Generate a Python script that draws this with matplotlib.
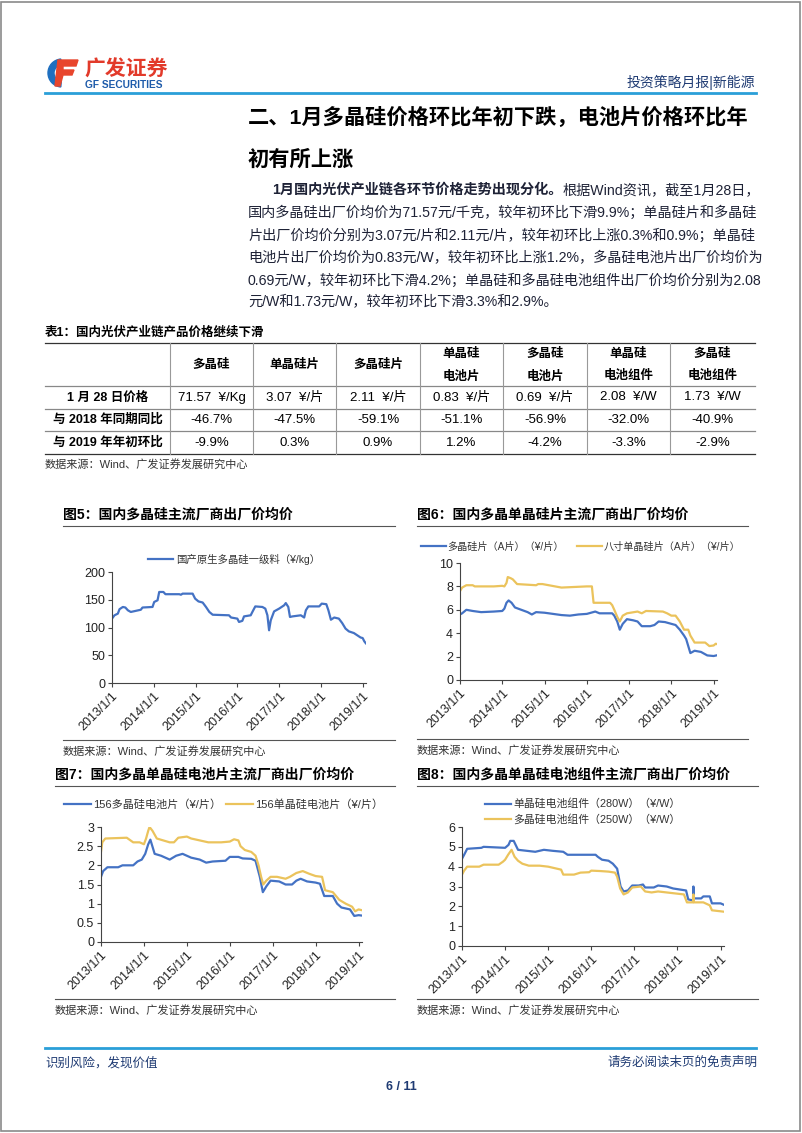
import matplotlib
matplotlib.use('Agg')
import matplotlib.pyplot as plt
from matplotlib.patches import Rectangle, Wedge, Polygon

plt.rcParams['font.family'] = ['Liberation Sans', 'Noto Sans CJK SC', 'DejaVu Sans']

W, H = 802, 1133
BLUE = '#4472C4'
GOLD = '#EBC35C'
NAVY = '#1F3B73'
LBLUE = '#2A9FD8'
TXT = '#1E2236'

# ---- table data ----
col_names = ['多晶硅', '单晶硅片', '多晶硅片', '单晶硅\n电池片', '多晶硅\n电池片', '单晶硅\n电池组件', '多晶硅\n电池组件']
row_names = ['1 月 28 日价格', '与 2018 年同期同比', '与 2019 年年初环比']
price_vals = ['71.57  ¥/Kg', '3.07  ¥/片', '2.11  ¥/片', '0.83  ¥/片', '0.69  ¥/片', '2.08  ¥/W', '1.73  ¥/W']
yoy_vals = ['-46.7%', '-47.5%', '-59.1%', '-51.1%', '-56.9%', '-32.0%', '-40.9%']
ytd_vals = ['-9.9%', '0.3%', '0.9%', '1.2%', '-4.2%', '-3.3%', '-2.9%']

# ---- chart data (decimal year, price) ----
poly_year = [2013.0, 2013.06, 2013.14, 2013.18, 2013.26, 2013.32, 2013.38, 2013.45, 2013.57, 2013.69, 2013.73,
             2013.97, 2014.01, 2014.09, 2014.13, 2014.23, 2014.28, 2014.61, 2014.65, 2014.69, 2014.93, 2014.99,
             2015.07, 2015.17, 2015.25, 2015.33, 2015.41, 2015.8, 2015.85, 2016.0, 2016.04, 2016.12, 2016.16,
             2016.32, 2016.36, 2016.43, 2016.6, 2016.67, 2016.72, 2016.76, 2016.8, 2016.88, 2017.0, 2017.12,
             2017.16, 2017.22, 2017.26, 2017.32, 2017.52, 2017.6, 2017.64, 2017.7, 2017.96, 2018.02, 2018.13,
             2018.18, 2018.24, 2018.32, 2018.43, 2018.51, 2018.59, 2018.67, 2018.79, 2018.87, 2018.95, 2019.0,
             2019.04, 2019.075]
poly_price = [116, 122, 125, 133, 137, 136, 131, 128, 130, 132, 136,
              137, 146, 149, 164, 164, 160, 160, 159, 161, 161, 152,
              147, 145, 137, 128, 123, 122, 118, 116, 110, 112, 120,
              122, 128, 138, 137, 134, 122, 95, 113, 129, 134, 140,
              144, 137, 119, 120, 122, 118, 131, 138, 138, 143, 142,
              131, 114, 118, 116, 108, 98, 93, 90, 86, 82, 81,
              75, 71.57]

wafer_year = [2013.0, 2013.05, 2013.15, 2013.3, 2013.5, 2013.8, 2014.0, 2014.05, 2014.1, 2014.15, 2014.22, 2014.3,
              2014.45, 2014.6, 2014.7, 2014.8, 2015.0, 2015.2, 2015.4, 2015.6, 2015.8, 2016.0, 2016.1, 2016.2,
              2016.3, 2016.6, 2016.65, 2016.72, 2016.78, 2016.85, 2016.95, 2017.1, 2017.2, 2017.3, 2017.5, 2017.6,
              2017.7, 2017.85, 2018.0, 2018.1, 2018.2, 2018.3, 2018.35, 2018.45, 2018.55, 2018.7, 2018.85, 2019.0,
              2019.075]
wafer_multi = [5.6, 5.7, 6.0, 5.9, 5.8, 5.85, 5.9, 6.1, 6.6, 6.8, 6.6, 6.2,
               6.0, 5.8, 5.6, 5.8, 5.75, 5.65, 5.55, 5.5, 5.6, 5.65, 5.75, 5.85,
               5.7, 5.7, 5.5, 5.0, 4.3, 4.8, 5.2, 5.1, 5.0, 4.6, 4.6, 4.7,
               5.0, 4.95, 4.8, 4.7, 4.3, 3.8, 3.5, 2.3, 2.5, 2.4, 2.1, 2.05,
               2.11]
mono_wafer_year = [2013.0, 2013.05, 2013.1, 2013.15, 2013.3, 2013.35, 2013.8, 2014.0, 2014.05, 2014.1, 2014.13,
                   2014.2, 2014.25, 2014.35, 2014.8, 2014.85, 2014.95, 2015.1, 2015.25, 2015.4, 2015.7, 2016.0,
                   2016.12, 2016.16, 2016.55, 2016.6, 2016.65, 2016.72, 2016.78, 2016.85, 2016.95, 2017.2, 2017.3,
                   2017.4, 2017.8, 2017.9, 2018.0, 2018.1, 2018.2, 2018.3, 2018.4, 2018.45, 2018.55, 2018.8,
                   2018.9, 2019.0, 2019.05, 2019.075]
wafer_mono = [7.6, 7.9, 8.0, 8.1, 8.1, 8.0, 8.0, 8.05, 8.0, 8.3, 8.8,
              8.7, 8.6, 8.2, 8.1, 8.2, 8.2, 8.1, 8.0, 7.9, 7.95, 8.0,
              8.0, 6.6, 6.6, 6.4, 6.0, 5.4, 5.0, 5.5, 5.7, 5.85, 5.7,
              5.9, 5.85, 5.7, 5.5, 5.5, 5.0, 4.3, 4.3, 3.8, 3.2, 3.2,
              2.9, 2.95, 3.1, 3.07]

cell_multi_year = [2013.0, 2013.05, 2013.15, 2013.4, 2013.5, 2013.75, 2013.85, 2013.95, 2014.03, 2014.1, 2014.15,
                   2014.25, 2014.4, 2014.6, 2014.75, 2014.9, 2015.1, 2015.3, 2015.45, 2015.6, 2015.9, 2016.0,
                   2016.2, 2016.3, 2016.5, 2016.6, 2016.7, 2016.77, 2016.85, 2016.95, 2017.15, 2017.3, 2017.45,
                   2017.55, 2017.65, 2017.8, 2018.0, 2018.1, 2018.2, 2018.4, 2018.5, 2018.6, 2018.8, 2018.9,
                   2019.0, 2019.075]
cell_multi = [1.7, 1.85, 1.95, 1.95, 2.0, 2.0, 2.1, 2.15, 2.3, 2.55, 2.67,
              2.3, 2.25, 2.15, 2.25, 2.3, 2.2, 2.15, 2.07, 2.1, 2.12, 2.22,
              2.22, 2.18, 2.17, 2.12, 1.7, 1.3, 1.45, 1.6, 1.58, 1.5, 1.5,
              1.6, 1.65, 1.58, 1.55, 1.52, 1.2, 1.2, 1.0, 0.9, 0.85, 0.68,
              0.7, 0.69]
cell_mono_year = [2013.0, 2013.03, 2013.1, 2013.6, 2013.65, 2013.75, 2013.9, 2014.0, 2014.05, 2014.1, 2014.13,
                  2014.2, 2014.3, 2014.45, 2014.6, 2014.7, 2014.8, 2015.0, 2015.1, 2015.3, 2015.5, 2015.8,
                  2016.0, 2016.1, 2016.2, 2016.25, 2016.35, 2016.5, 2016.6, 2016.67, 2016.73, 2016.78, 2016.85,
                  2016.95, 2017.1, 2017.3, 2017.4, 2017.55, 2017.7, 2017.85, 2018.0, 2018.15, 2018.22, 2018.4,
                  2018.55, 2018.7, 2018.85, 2018.92, 2019.0, 2019.075]
cell_mono = [2.35, 2.6, 2.7, 2.72, 2.68, 2.6, 2.6, 2.55, 2.7, 2.9, 3.0,
             2.9, 2.7, 2.65, 2.6, 2.6, 2.72, 2.75, 2.7, 2.65, 2.6, 2.6,
             2.62, 2.68, 2.65, 2.5, 2.4, 2.35, 2.25, 2.0, 1.7, 1.5, 1.6,
             1.7, 1.7, 1.65, 1.7, 1.8, 1.85, 1.78, 1.72, 1.7, 1.35, 1.3,
             1.1, 1.0, 0.92, 0.8, 0.85, 0.83]

mod_mono_year = [2013.0, 2013.05, 2013.12, 2013.45, 2013.5, 2014.0, 2014.08, 2014.12, 2014.2, 2014.3, 2014.5,
                 2014.7, 2014.9, 2015.1, 2015.35, 2015.45, 2016.1, 2016.15, 2016.25, 2016.4, 2016.5, 2016.6,
                 2016.68, 2016.75, 2016.85, 2016.95, 2017.1, 2017.2, 2017.25, 2017.45, 2017.55, 2017.75, 2017.9,
                 2018.05, 2018.2, 2018.25, 2018.35, 2018.36, 2018.37, 2018.38, 2018.4, 2018.55, 2018.6, 2018.75,
                 2018.8, 2019.0, 2019.075]
mod_mono = [4.4, 4.6, 4.9, 4.95, 5.0, 4.95, 5.1, 5.3, 5.3, 4.85, 4.8,
            4.75, 4.85, 4.8, 4.75, 4.6, 4.6, 4.5, 4.35, 4.3, 4.15, 3.9,
            3.0, 2.75, 2.8, 3.05, 3.05, 3.1, 2.95, 2.95, 3.05, 3.0, 2.9,
            2.85, 2.8, 2.35, 2.3, 2.3, 3.0, 2.4, 2.4, 2.4, 2.5, 2.5,
            2.15, 2.15, 2.08]
mod_multi_year = [2013.0, 2013.05, 2013.12, 2013.4, 2013.5, 2013.85, 2013.95, 2014.0, 2014.07, 2014.15, 2014.22,
                  2014.3, 2014.4, 2014.55, 2014.8, 2015.0, 2015.2, 2015.3, 2015.35, 2015.6, 2015.75, 2015.95,
                  2016.0, 2016.2, 2016.4, 2016.55, 2016.6, 2016.67, 2016.75, 2016.85, 2016.95, 2017.15, 2017.25,
                  2017.4, 2017.55, 2017.75, 2017.95, 2018.15, 2018.22, 2018.36, 2018.37, 2018.38, 2018.6, 2018.75,
                  2018.8, 2019.0, 2019.075]
mod_multi = [3.6, 3.8, 4.0, 4.0, 4.1, 4.1, 4.25, 4.35, 4.6, 4.85, 4.5,
             4.3, 4.15, 4.05, 4.05, 4.0, 3.9, 3.85, 3.6, 3.6, 3.7, 3.72,
             3.8, 3.78, 3.75, 3.7, 3.5, 2.9, 2.6, 2.7, 2.95, 3.0, 2.75,
             2.7, 2.75, 2.7, 2.65, 2.6, 2.2, 2.2, 2.6, 2.2, 2.2, 2.05,
             1.8, 1.75, 1.73]

years = list(range(2013, 2020))
year_labels = [f'{y}/1/1' for y in years]

para_lines = [
    '国内多晶硅出厂价均价为71.57元/千克，较年初环比下滑9.9%；单晶硅片和多晶硅',
    '片出厂价均价分别为3.07元/片和2.11元/片，较年初环比上涨0.3%和0.9%；单晶硅',
    '电池片出厂价均价为0.83元/W，较年初环比上涨1.2%，多晶硅电池片出厂价均价为',
    '0.69元/W，较年初环比下滑4.2%；单晶硅和多晶硅电池组件出厂价均价分别为2.08',
    '元/W和1.73元/W，较年初环比下滑3.3%和2.9%。',
]

fig = plt.figure(figsize=(W / 100, H / 100), dpi=100)
bg = fig.add_axes([0, 0, 1, 1])
bg.set_xlim(0, W)
bg.set_ylim(H, 0)
bg.axis('off')

# page border
bg.add_patch(Rectangle((1, 2), W - 3, H - 4, fill=False, ec='#8a8a8a', lw=1.2))

# logo
bg.add_patch(Wedge((62, 73), 14, 95, 265, width=6, color='#1E6FC0'))
bg.add_patch(Polygon([[58, 60], [78, 60], [76, 66], [63, 66], [63, 70], [74, 70], [72, 75], [63, 75], [60, 86], [55, 86]],
                     closed=True, color='#E8452C'))
bg.text(84, 69, '广发证券', fontsize=15, fontweight='bold', color='#E23A2A', va='center', ha='left',
        family=['Noto Sans CJK SC'])
bg.text(85, 85, 'GF SECURITIES', fontsize=7.3, fontweight='bold', color='#1E5BAA', va='center', ha='left')

# header
bg.text(755, 82, '投资策略月报|新能源', fontsize=10, color=NAVY, ha='right', va='center')
bg.plot([45, 756], [93, 93], color=LBLUE, lw=2)

# section title
bg.text(248, 117, '二、1月多晶硅价格环比年初下跌，电池片价格环比年', fontsize=15.3, fontweight='bold',
        color='black', va='center', ha='left')
bg.text(248, 160, '初有所上涨', fontsize=15.3, fontweight='bold', color='black', va='center', ha='left')

# paragraph
r = fig.canvas.get_renderer()
t1 = bg.text(272, 190, '1月国内光伏产业链各环节价格走势出现分化。', fontsize=10.2, fontweight='bold',
             color=TXT, va='center', ha='left')
x_end = t1.get_window_extent(r).x1
bg.text(x_end, 190, '根据Wind资讯，截至1月28日，', fontsize=10.2, color=TXT, va='center', ha='left')
for i, line in enumerate(para_lines):
    bg.text(248, 213 + i * 22.4, line, fontsize=10.2, color=TXT, va='center', ha='left')

# table
bg.text(45, 333, '表1：国内光伏产业链产品价格继续下滑', fontsize=9, fontweight='bold', color='black',
        va='center', ha='left')
col_edges = [45, 170, 253, 336, 420, 503, 587, 670, 755]
row_edges = [343, 386, 409, 431, 454]
for k, y in enumerate(row_edges):
    bg.plot([col_edges[0], col_edges[-1]], [y, y], color='#333' if k in (0, 4) else '#888', lw=0.9)
for x in col_edges[1:-1]:
    bg.plot([x, x], [row_edges[0], row_edges[-1]], color='#999', lw=0.8)
centers = [(col_edges[j] + col_edges[j + 1]) / 2 for j in range(len(col_edges) - 1)]
for j, name in enumerate(col_names):
    bg.text(centers[j + 1], (row_edges[0] + row_edges[1]) / 2, name, fontsize=9, fontweight='bold',
            ha='center', va='center', linespacing=2.0, family=['Noto Sans CJK SC'])
for i, (name, vals) in enumerate(zip(row_names, [price_vals, yoy_vals, ytd_vals])):
    yc = (row_edges[i + 1] + row_edges[i + 2]) / 2
    bg.text(centers[0], yc, name, fontsize=9, fontweight='bold', ha='center', va='center')
    for j, v in enumerate(vals):
        bg.text(centers[j + 1], yc, v, fontsize=9.5, ha='center', va='center')
bg.text(45, 464, '数据来源：Wind、广发证券发展研究中心', fontsize=8, color='#333', va='center', ha='left')


def panel(l, t, rr, b, ymax, ystep, title, tx, tr, ty, src_y, ylab=None):
    bg.text(tx, ty, title, fontsize=10, fontweight='bold', color='black', va='center', ha='left')
    bg.plot([tx, tr], [ty + 11, ty + 11], color='#555', lw=0.8)
    bg.plot([tx, tr], [src_y, src_y], color='#555', lw=0.8)
    bg.text(tx, src_y + 11, '数据来源：Wind、广发证券发展研究中心', fontsize=8, color='#333',
            va='center', ha='left')
    ax = fig.add_axes([l / W, 1 - b / H, (rr - l) / W, (b - t) / H])
    ax.set_facecolor('none')
    ax.set_xlim(2013.0, 2019.08)
    ax.set_ylim(0, ymax)
    ticks = [k * ystep for k in range(int(round(ymax / ystep)) + 1)]
    ax.set_yticks(ticks)
    if ylab:
        ax.set_yticklabels(ylab)
    ax.set_xticks(years)
    ax.set_xticklabels(year_labels, rotation=45, ha='right', rotation_mode='anchor')
    for s in ('top', 'right'):
        ax.spines[s].set_visible(False)
    for s in ('left', 'bottom'):
        ax.spines[s].set_color('#444')
        ax.spines[s].set_linewidth(0.8)
    ax.tick_params(direction='out', length=3, width=0.8, color='#444', labelsize=9, labelcolor='#222', pad=2)
    return ax


# fig5
ax5 = panel(112, 572, 366, 683, 200, 50, '图5：国内多晶硅主流厂商出厂价均价', 63, 395, 515, 740)
ax5.plot(poly_year, poly_price, color=BLUE, lw=1.6, label='国产原生多晶硅一级料（¥/kg）')
ax5.legend(loc='lower center', bbox_to_anchor=(0.48, 1.03), frameon=False, fontsize=7.5,
           handlelength=2.4, handletextpad=0.3, borderaxespad=0, labelcolor='#333')

# fig6
ax6 = panel(460, 563, 717, 680, 10, 2, '图6：国内多晶单晶硅片主流厂商出厂价均价', 417, 748, 515, 739)
ax6.plot(wafer_year, wafer_multi, color=BLUE, lw=1.6, label='多晶硅片（A片）（¥/片）')
ax6.plot(mono_wafer_year, wafer_mono, color=GOLD, lw=1.6, label='八寸单晶硅片（A片）（¥/片）')
ax6.legend(loc='lower center', bbox_to_anchor=(0.47, 1.06), frameon=False, fontsize=7.3, ncol=2,
           handlelength=2.4, handletextpad=0.2, columnspacing=1.3, borderaxespad=0, labelcolor='#333')

# fig7
ax7 = panel(101, 827, 362, 942, 3, 0.5, '图7：国内多晶单晶硅电池片主流厂商出厂价均价', 55, 395, 775, 999,
            ylab=['0', '0.5', '1', '1.5', '2', '2.5', '3'])
ax7.plot(cell_multi_year, cell_multi, color=BLUE, lw=1.6, label='156多晶硅电池片（¥/片）')
ax7.plot(cell_mono_year, cell_mono, color=GOLD, lw=1.6, label='156单晶硅电池片（¥/片）')
ax7.legend(loc='lower center', bbox_to_anchor=(0.47, 1.11), frameon=False, fontsize=8, ncol=2,
           handlelength=2.4, handletextpad=0.2, columnspacing=0.5, borderaxespad=0, labelcolor='#333')

# fig8
ax8 = panel(462, 827, 724, 946, 6, 1, '图8：国内多晶单晶硅电池组件主流厂商出厂价均价', 417, 758, 775, 999)
ax8.plot(mod_mono_year, mod_mono, color=BLUE, lw=1.6, label='单晶硅电池组件（280W）（¥/W）')
ax8.plot(mod_multi_year, mod_multi, color=GOLD, lw=1.6, label='多晶硅电池组件（250W）（¥/W）')
ax8.legend(loc='lower center', bbox_to_anchor=(0.46, 0.98), frameon=False, fontsize=7.8, ncol=1,
           handlelength=2.4, handletextpad=0.2, labelspacing=0.45, borderaxespad=0, labelcolor='#333')

# footer
bg.plot([45, 756], [1048, 1048], color=LBLUE, lw=2)
bg.text(45, 1063, '识别风险，发现价值', fontsize=9, color=NAVY, va='center', ha='left')
bg.text(757, 1063, '请务必阅读末页的免责声明', fontsize=9, color=NAVY, va='center', ha='right')
bg.text(401, 1087, '6 / 11', fontsize=9, fontweight='bold', color=NAVY, va='center', ha='center')

fig.savefig('out.png', dpi=100)
